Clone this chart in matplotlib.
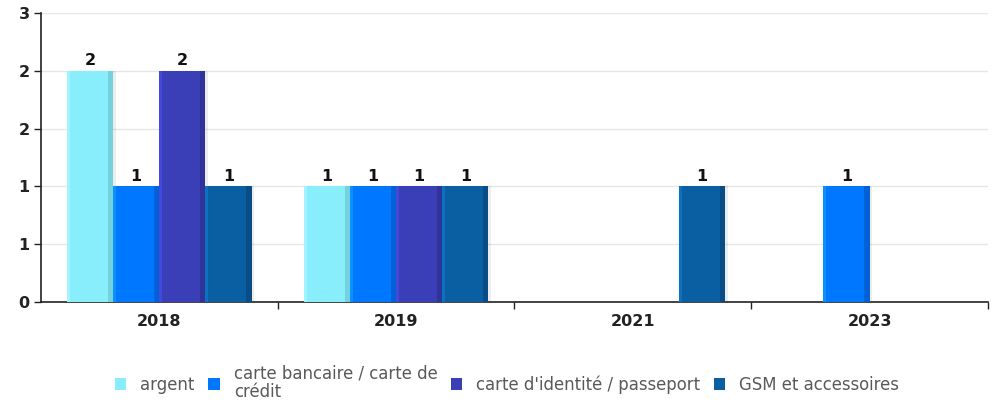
import matplotlib.pyplot as plt
import numpy as np
from matplotlib.ticker import FixedLocator, FuncFormatter

years = ["2018", "2019", "2021", "2023"]
series = ["argent", "carte bancaire / carte de\ncrédit",
          "carte d'identité / passeport", "GSM et accessoires"]
argent = [2, 1, 0, 0]
carte_bancaire = [1, 1, 0, 1]
carte_identite = [2, 1, 0, 0]
gsm = [1, 1, 1, 0]
values = [argent, carte_bancaire, carte_identite, gsm]

colors = ["#88EEFC", "#0077FF", "#3A3FB8", "#0A5FA3"]
light = ["#A0F3FF", "#0A90FF", "#4449DE", "#0C72BF"]
dark = ["#74D2DC", "#0062D6", "#30349A", "#084D85"]

fig = plt.figure(figsize=(9.98, 4.04), dpi=100)
ax = fig.add_axes([0.041, 0.2525, 0.949, 0.7155])

x = np.arange(len(years))
w = 0.195
for j, vals in enumerate(values):
    pos = x + (j - 1.5) * w
    # soft shadow to the right of each bar
    ax.bar(pos + 0.012, vals, w, color="#000000", alpha=0.07, zorder=2)
    bars = ax.bar(pos, vals, w, color=colors[j], zorder=3, label=series[j])
    ax.bar(pos - w / 2, vals, 0.012, align="edge", color=light[j], zorder=4)
    ax.bar(pos + w / 2 - 0.022, vals, 0.022, align="edge", color=dark[j], zorder=4)
    labels = [str(v) if v else "" for v in vals]
    ax.bar_label(bars, labels=labels, padding=2, fontsize=11.5,
                 fontweight="bold", color="#111111", zorder=5)

ax.set_xlim(-0.5, 3.5)
ax.set_ylim(0, 2.5)
ax.yaxis.set_major_locator(FixedLocator(np.arange(0, 2.51, 0.5)))
ax.yaxis.set_major_formatter(FuncFormatter(lambda v, p: str(int(np.floor(v + 0.5)))))
ax.grid(axis="y", color="#E6E6E6", linewidth=1, zorder=0)
ax.set_axisbelow(True)

ax.set_xticks(x)
ax.set_xticklabels(years, fontsize=11.5, fontweight="bold", color="#222222")
ax.tick_params(axis="x", length=0, pad=9)
ax.set_xticks(np.arange(0.5, 3.6, 1), minor=True)
ax.tick_params(axis="x", which="minor", length=5, width=1, color="#222222")
ax.tick_params(axis="y", length=5, width=1, color="#222222", labelsize=11.5, pad=3)
for t in ax.get_yticklabels():
    t.set_fontweight("bold")
    t.set_color("#222222")

for s in ["top", "right"]:
    ax.spines[s].set_visible(False)
for s in ["left", "bottom"]:
    ax.spines[s].set_color("#222222")
    ax.spines[s].set_linewidth(1.2)

leg = fig.legend(loc="center", bbox_to_anchor=(0.508, 0.052), ncol=4, frameon=False,
                 handlelength=0.7, handleheight=0.7, handletextpad=0.85,
                 columnspacing=0.8, prop={"family": "DejaVu Sans", "size": 11.9})
for t in leg.get_texts():
    t.set_color("#595959")
    t.set_linespacing(1.05)

fig.savefig("out.png", dpi=100)
